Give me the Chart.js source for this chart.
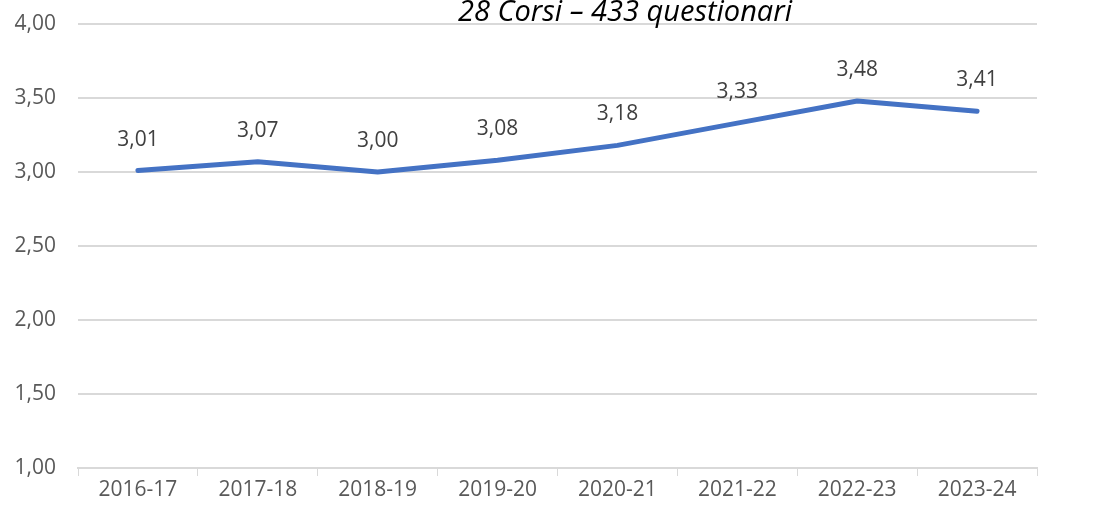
<!DOCTYPE html>
<html>
<head>
<meta charset="utf-8">
<script src="https://cdn.jsdelivr.net/npm/chart.js@4/dist/chart.umd.min.js"></script>
<style>
  html, body { margin: 0; padding: 0; background: #fff; }
  #wrap { width: 1097px; height: 510px; position: relative; }
</style>
</head>
<body>
<div id="wrap"><canvas id="chart"></canvas></div>
<script>
// data
var categories = ["2016-17", "2017-18", "2018-19", "2019-20", "2020-21", "2021-22", "2022-23", "2023-24"];
var scores = [3.01, 3.07, 3.00, 3.08, 3.18, 3.33, 3.48, 3.41];
var titleText = "28 Corsi \u2013 433 questionari";

var fmt = function (v) { return v.toFixed(2).replace(".", ","); };

// value labels above each point
var pointLabels = {
    id: "pointLabels",
    afterDatasetsDraw: function (chart) {
        var ctx = chart.ctx;
        var meta = chart.getDatasetMeta(0);
        ctx.save();
        ctx.font = "21px 'Open Sans', sans-serif";
        ctx.fillStyle = "#404040";
        ctx.textAlign = "center";
        ctx.textBaseline = "middle";
        meta.data.forEach(function (pt, i) {
            ctx.fillText(fmt(scores[i]), pt.x, pt.y - 31);
        });
        ctx.restore();
    }
};

// title sits off-centre, overlapping the top gridline
var topTitle = {
    id: "topTitle",
    afterDraw: function (chart) {
        var ctx = chart.ctx;
        ctx.save();
        ctx.font = "italic 29px 'Open Sans', sans-serif";
        ctx.fillStyle = "#000";
        ctx.textAlign = "center";
        ctx.textBaseline = "alphabetic";
        ctx.fillText(titleText, chart.chartArea.left + 547, 21);
        ctx.restore();
    }
};

new Chart(document.getElementById("chart"), {
    type: "line",
    data: {
        labels: categories,
        datasets: [{
            data: scores,
            borderColor: "#4472C4",
            borderWidth: 5,
            pointRadius: 0,
            pointHoverRadius: 0,
            tension: 0,
            borderCapStyle: "round",
            borderJoinStyle: "round",
            fill: false
        }]
    },
    options: {
        responsive: true,
        maintainAspectRatio: false,
        animation: false,
        layout: { padding: { top: 24, right: 60, bottom: 0, left: 0 } },
        plugins: {
            legend: { display: false },
            tooltip: { enabled: false },
            title: { display: false }
        },
        scales: {
            x: {
                offset: true,
                grid: {
                    offset: true,
                    display: true,
                    drawOnChartArea: false,
                    drawTicks: true,
                    tickLength: 8,
                    color: "#D9D9D9",
                    lineWidth: 1
                },
                border: { display: true, color: "#D9D9D9", width: 2 },
                ticks: {
                    color: "#595959",
                    font: { family: "'Open Sans', sans-serif", size: 21 },
                    padding: 1,
                    maxRotation: 0
                },
                afterFit: function (s) { s.height = 42; }
            },
            y: {
                min: 1,
                max: 4,
                ticks: {
                    stepSize: 0.5,
                    color: "#595959",
                    font: { family: "'Open Sans', sans-serif", size: 21 },
                    padding: 22,
                    callback: function (v) { return fmt(v); }
                },
                grid: {
                    color: "#D9D9D9",
                    lineWidth: 2,
                    drawTicks: false
                },
                border: { display: false },
                afterFit: function (s) {
                    s.width = 78;
                    s.paddingTop = 0;
                    s.paddingBottom = 0;
                }
            }
        }
    },
    plugins: [pointLabels, topTitle]
});
</script>
</body>
</html>
